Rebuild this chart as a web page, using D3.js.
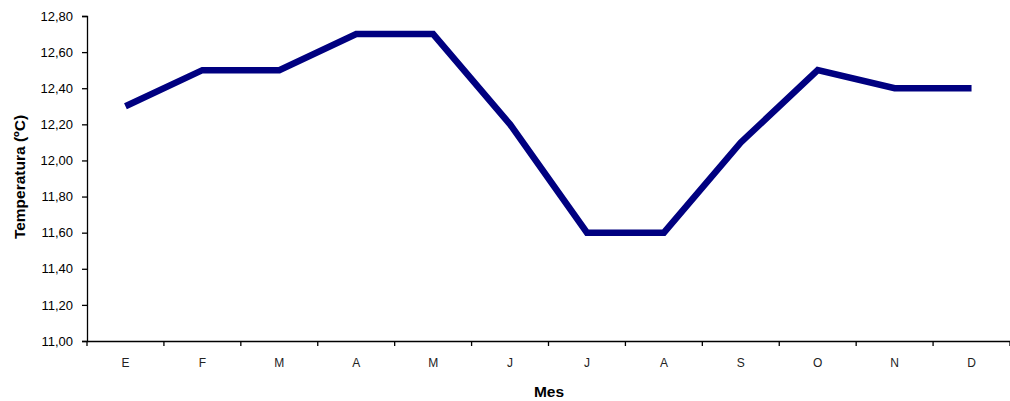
<!DOCTYPE html>
<html><head><meta charset="utf-8">
<script src="https://cdn.jsdelivr.net/npm/d3@7"></script>
<style>body{margin:0;background:#fff}svg{display:block}text{font-family:"Liberation Sans",Arial,sans-serif}</style>
</head><body>
<svg id="c" width="1010" height="401"></svg>
<script>
const months = ["E","F","M","A","M","J","J","A","S","O","N","D"];
const temps = [12.30,12.50,12.50,12.70,12.70,12.20,11.60,11.60,12.10,12.50,12.40,12.40];
const yTicks = [11.0,11.2,11.4,11.6,11.8,12.0,12.2,12.4,12.6,12.8];

const svg = d3.select("#c");
const m = {left:87, right:0, top:16, bottom:60};
const W = 1010, H = 401;
const keys = months.map((d,i)=>i);
const x = d3.scaleBand().domain(keys).range([m.left, W - m.right]);
const y = d3.scaleLinear().domain([11.0,12.8]).range([H - m.bottom, m.top]);

const fmt = d => d.toFixed(2).replace(".", ",");

const gy = svg.append("g").attr("transform",`translate(${m.left},0)`)
  .call(d3.axisLeft(y).tickValues(yTicks).tickFormat(fmt).tickSizeOuter(0).tickSize(5).tickPadding(9));
gy.selectAll("text").attr("font-size",13).attr("fill","#000").attr("font-family","Liberation Sans, Arial, sans-serif");
gy.selectAll("line,path").attr("stroke","#000").attr("stroke-width",1.3);

const gx = svg.append("g").attr("transform",`translate(0,${H - m.bottom})`)
  .call(d3.axisBottom(x).tickFormat(i=>months[i]).tickSize(0).tickSizeOuter(0).tickPadding(17));
gx.selectAll("text").attr("font-size",12).attr("fill","#222").attr("font-family","Liberation Sans, Arial, sans-serif");
gx.selectAll("path").attr("stroke","#000").attr("stroke-width",1.3);
// tick marks at band boundaries
gx.selectAll(".bt").data(d3.range(months.length+1)).enter().append("line")
  .attr("x1", i => m.left + i*x.step()).attr("x2", i => m.left + i*x.step())
  .attr("y1",0).attr("y2",5).attr("stroke","#000").attr("stroke-width",1.3);

const line = d3.line().x((d,i)=>x(i)+x.bandwidth()/2).y(d=>y(d));
svg.append("path").datum(temps).attr("d",line)
  .attr("fill","none").attr("stroke","#000080").attr("stroke-width",6.5)
  .attr("stroke-linejoin","miter").attr("stroke-linecap","butt");

svg.append("text").attr("x", 549).attr("y", 397)
  .attr("text-anchor","middle").attr("font-size",15.5).attr("font-weight","bold").text("Mes");
svg.append("text").attr("transform",`translate(25,177) rotate(-90)`)
  .attr("text-anchor","middle").attr("font-size",15.5).attr("font-weight","bold").text("Temperatura (ºC)");
</script>
</body></html>
